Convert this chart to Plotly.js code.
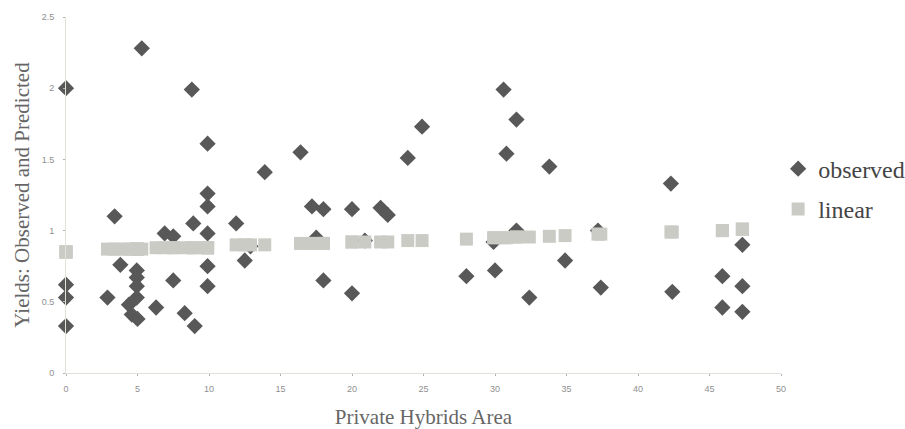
<!DOCTYPE html>
<html>
<head>
<meta charset="utf-8">
<script src="https://cdn.plot.ly/plotly-3.0.1.min.js"></script>
<style>html,body{margin:0;padding:0;background:#fff;}#chart{width:905px;height:429px;}</style>
</head>
<body>
<div id="chart"></div>
<script>
// Observed yields (x = private hybrids area)
const obsX = [0,0,0,0, 2.9,3.4,3.8,4.4,4.6, 4.95,4.95,4.95,4.95, 5.0,5.3,
  6.3,6.9,7.5,7.5, 8.3,8.8,8.9,9.0, 9.9,9.9,9.9,9.9,9.9,9.9,
  11.9,12.5,12.9,13.9, 16.4,17.2,17.5,18.0,18.0, 20.0,20.0,20.9,22.0,22.5,
  23.9,24.9, 28.0,29.9,30.0,30.6,30.8, 31.5,31.5,32.4,33.8,34.9,
  37.2,37.4, 42.3,42.4, 45.9,45.9, 47.3,47.3,47.3];
const obsY = [2.0,0.62,0.53,0.33, 0.53,1.10,0.76,0.48,0.41, 0.72,0.67,0.61,0.53, 0.38,2.28,
  0.46,0.98,0.96,0.65, 0.42,1.99,1.05,0.33, 1.61,1.26,1.17,0.98,0.75,0.61,
  1.05,0.79,0.89,1.41, 1.55,1.17,0.95,1.15,0.65, 1.15,0.56,0.93,1.16,1.11,
  1.51,1.73, 0.68,0.92,0.72,1.99,1.54, 1.78,1.00,0.53,1.45,0.79,
  1.00,0.60, 1.33,0.57, 0.68,0.46, 0.90,0.61,0.43];
// Linear predicted values at the same x
const linX = obsX;
const linY = [0.85,0.85,0.85,0.85, 0.87,0.87,0.87,0.87,0.87, 0.87,0.87,0.87,0.87, 0.87,0.87,
  0.88,0.88,0.88,0.88, 0.88,0.88,0.88,0.88, 0.88,0.88,0.88,0.88,0.88,0.88,
  0.90,0.90,0.90,0.90, 0.91,0.91,0.91,0.91,0.91, 0.92,0.92,0.92,0.92,0.92,
  0.93,0.93, 0.94,0.95,0.95,0.95,0.95, 0.955,0.955,0.955,0.96,0.965,
  0.975,0.975, 0.99,0.99, 1.00,1.00, 1.01,1.01,1.01];
const seriesNames = ['observed', 'linear'];
const xTitle = 'Private Hybrids Area';
const yTitle = 'Yields: Observed and Predicted';

const traces = [
  {x: obsX, y: obsY, name: seriesNames[0], type: 'scatter', mode: 'markers', cliponaxis: false,
   legendgroup: 'a',
   marker: {symbol: 'diamond', size: 12.5, color: '#585858', line: {width: 0}}},
  {x: linX, y: linY, name: seriesNames[1], type: 'scatter', mode: 'markers', cliponaxis: false,
   legendgroup: 'b',
   marker: {symbol: 'square', size: 13, color: '#cbcbc6', line: {width: 0}}}
];

const tickFont = {family: 'Liberation Sans, Arial, sans-serif', size: 9, color: '#8f8f8f'};
const titleFont = {family: 'Liberation Serif, Times New Roman, serif', size: 21, color: '#666'};

const layout = {
  width: 905, height: 429,
  margin: {l: 66, r: 124, t: 17, b: 56, autoexpand: false},
  paper_bgcolor: '#fff', plot_bgcolor: '#fff',
  showlegend: true,
  legend: {x: 0.996, xanchor: 'left', y: 0.636, yanchor: 'top',
    font: {family: 'Liberation Serif, Times New Roman, serif', size: 24, color: '#454545'},
    bgcolor: 'rgba(0,0,0,0)', traceorder: 'grouped', tracegroupgap: 6},
  xaxis: {range: [0, 50], tick0: 0, dtick: 5, showgrid: false, zeroline: false,
    showline: true, linecolor: '#e2e2da', linewidth: 1,
    ticks: 'outside', ticklen: 2, tickcolor: '#b0b0b0', ticklabelstandoff: 5,
    tickfont: tickFont,
    title: {text: xTitle, font: titleFont, standoff: 18}},
  yaxis: {range: [0, 2.5], tick0: 0, dtick: 0.5, showgrid: false, zeroline: false,
    showline: true, linecolor: '#e2e2da', linewidth: 1,
    ticks: 'outside', ticklen: 2, tickcolor: '#b0b0b0', ticklabelstandoff: 7,
    tickfont: tickFont,
    title: {text: yTitle, font: titleFont, standoff: 6}},
  hovermode: false
};

Plotly.newPlot('chart', traces, layout, {staticPlot: true, displayModeBar: false});
</script>
</body>
</html>
